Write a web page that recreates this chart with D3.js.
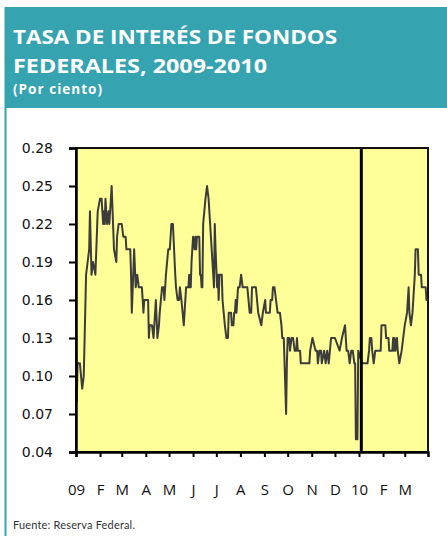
<!DOCTYPE html>
<html>
<head>
<meta charset="utf-8">
<script src="https://cdn.jsdelivr.net/npm/d3@7"></script>
<style>
  body { margin: 0; background: #fff; }
  svg { display: block; }
</style>
</head>
<body>
<script>
// fed funds effective rate
var dates = [
  "2009-01-01","2009-01-02","2009-01-03","2009-01-06","2009-01-09","2009-01-11","2009-01-14","2009-01-18","2009-01-19","2009-01-21",
  "2009-01-23","2009-01-26","2009-01-29","2009-02-01","2009-02-03","2009-02-04","2009-02-05","2009-02-06","2009-02-07","2009-02-08",
  "2009-02-10","2009-02-12","2009-02-13","2009-02-16","2009-02-19","2009-02-22","2009-02-23","2009-02-25","2009-03-01","2009-03-03",
  "2009-03-06","2009-03-07","2009-03-12","2009-03-13","2009-03-14","2009-03-17","2009-03-19","2009-03-21","2009-03-23","2009-03-27",
  "2009-03-28","2009-03-29","2009-03-30","2009-04-04","2009-04-05","2009-04-06","2009-04-09","2009-04-11","2009-04-14","2009-04-16",
  "2009-04-18","2009-04-19","2009-04-22","2009-04-24","2009-04-25","2009-04-26","2009-04-27","2009-04-30","2009-05-02","2009-05-04",
  "2009-05-06","2009-05-09","2009-05-10","2009-05-12","2009-05-14","2009-05-15","2009-05-17","2009-05-20","2009-05-23","2009-05-26",
  "2009-05-27","2009-05-28","2009-05-29","2009-05-30","2009-06-01","2009-06-03","2009-06-04","2009-06-05","2009-06-06","2009-06-09",
  "2009-06-10","2009-06-11","2009-06-12","2009-06-13","2009-06-14","2009-06-17","2009-06-19","2009-06-21","2009-06-24","2009-06-27",
  "2009-06-28","2009-06-29","2009-06-30","2009-07-02","2009-07-03","2009-07-04","2009-07-05","2009-07-08","2009-07-09","2009-07-12",
  "2009-07-14","2009-07-16","2009-07-17","2009-07-20","2009-07-21","2009-07-23","2009-07-24","2009-07-25","2009-07-26","2009-07-27",
  "2009-07-29","2009-07-31","2009-08-02","2009-08-04","2009-08-10","2009-08-13","2009-08-15","2009-08-16","2009-08-21","2009-08-24",
  "2009-08-28","2009-08-30","2009-09-02","2009-09-03","2009-09-08","2009-09-09","2009-09-11","2009-09-12","2009-09-14","2009-09-16",
  "2009-09-18","2009-09-21","2009-09-23","2009-09-24","2009-09-26","2009-09-27","2009-09-29","2009-09-30","2009-10-01","2009-10-03",
  "2009-10-04","2009-10-06","2009-10-08","2009-10-10","2009-10-12","2009-10-13","2009-10-14","2009-10-17","2009-10-18","2009-10-29",
  "2009-10-30","2009-11-02","2009-11-06","2009-11-08","2009-11-09","2009-11-11","2009-11-13","2009-11-14","2009-11-17","2009-11-19",
  "2009-11-21","2009-11-23","2009-11-26","2009-12-01","2009-12-07","2009-12-10","2009-12-14","2009-12-16","2009-12-18","2009-12-20",
  "2009-12-22","2009-12-24","2009-12-26","2009-12-27","2009-12-28","2009-12-30","2009-12-31","2010-01-05","2010-01-12","2010-01-14",
  "2010-01-15","2010-01-17","2010-01-18","2010-01-20","2010-01-22","2010-01-29","2010-01-30","2010-02-04","2010-02-05","2010-02-08",
  "2010-02-09","2010-02-13","2010-02-14","2010-02-15","2010-02-16","2010-02-17","2010-02-19","2010-02-20","2010-02-22","2010-02-25",
  "2010-03-01","2010-03-04","2010-03-06","2010-03-07","2010-03-09","2010-03-11","2010-03-14","2010-03-15","2010-03-18","2010-03-19",
  "2010-03-22","2010-03-23","2010-03-28","2010-03-29","2010-03-31"
];
var rates = [
  0.14,0.08,0.11,0.11,0.09,0.10,0.18,0.20,0.23,0.18,
  0.19,0.18,0.23,0.24,0.24,0.23,0.22,0.23,0.22,0.24,
  0.22,0.23,0.22,0.25,0.20,0.19,0.21,0.22,0.22,0.21,
  0.21,0.20,0.20,0.18,0.15,0.20,0.17,0.18,0.17,0.17,
  0.16,0.15,0.16,0.16,0.13,0.14,0.14,0.13,0.16,0.13,
  0.14,0.15,0.17,0.17,0.16,0.17,0.18,0.20,0.20,0.22,
  0.22,0.18,0.17,0.16,0.16,0.17,0.16,0.14,0.17,0.17,
  0.18,0.17,0.17,0.19,0.21,0.20,0.21,0.20,0.21,0.21,
  0.18,0.18,0.17,0.17,0.22,0.24,0.25,0.24,0.21,0.18,
  0.17,0.22,0.20,0.17,0.18,0.16,0.18,0.18,0.16,0.14,
  0.13,0.13,0.15,0.15,0.14,0.14,0.15,0.15,0.16,0.15,
  0.17,0.17,0.18,0.17,0.17,0.15,0.15,0.17,0.17,0.15,
  0.14,0.15,0.16,0.15,0.15,0.16,0.16,0.17,0.17,0.16,
  0.15,0.15,0.14,0.13,0.13,0.11,0.07,0.11,0.13,0.13,
  0.12,0.13,0.13,0.12,0.12,0.13,0.12,0.12,0.11,0.11,
  0.12,0.13,0.12,0.12,0.11,0.12,0.12,0.11,0.12,0.11,
  0.12,0.11,0.13,0.13,0.12,0.13,0.14,0.12,0.12,0.11,
  0.12,0.12,0.11,0.11,0.05,0.05,0.12,0.11,0.11,0.12,
  0.13,0.13,0.12,0.11,0.12,0.12,0.14,0.14,0.13,0.13,
  0.12,0.12,0.13,0.12,0.13,0.12,0.13,0.12,0.11,0.12,
  0.14,0.15,0.17,0.15,0.14,0.15,0.18,0.20,0.20,0.18,
  0.18,0.17,0.17,0.16,0.16
];
var yTicks = [0.04, 0.07, 0.10, 0.13, 0.16, 0.19, 0.22, 0.25, 0.28];
var monthLabels = ["09","F","M","A","M","J","J","A","S","O","N","D","10","F","M"];
var markerDate = "2010-01-04";

var parse = d3.timeParse("%Y-%m-%d");
var data = dates.map(function(d, i) { return { date: parse(d), value: rates[i] }; });

var W = 447, H = 536;
var teal = "#35a3b0";

var svg = d3.select("body").append("svg")
  .attr("width", W)
  .attr("height", H);

// header box
svg.append("rect")
  .attr("x", 5).attr("y", 7)
  .attr("width", W - 5).attr("height", 101)
  .attr("fill", teal);

svg.append("rect")
  .attr("x", 4.5).attr("y", 7)
  .attr("width", 2).attr("height", H - 7)
  .attr("fill", teal);

svg.append("text")
  .attr("x", 13).attr("y", 44)
  .attr("textLength", 324)
  .attr("lengthAdjust", "spacingAndGlyphs")
  .style("font-family", "'Open Sans', sans-serif")
  .style("font-weight", "bold")
  .style("font-size", "20px")
  .attr("fill", "#fff")
  .text("TASA DE INTERÉS DE FONDOS");

svg.append("text")
  .attr("x", 13).attr("y", 73)
  .attr("textLength", 254)
  .attr("lengthAdjust", "spacingAndGlyphs")
  .style("font-family", "'Open Sans', sans-serif")
  .style("font-weight", "bold")
  .style("font-size", "20px")
  .attr("fill", "#fff")
  .text("FEDERALES, 2009-2010");

svg.append("text")
  .attr("x", 13).attr("y", 94)
  .attr("textLength", 89)
  .attr("lengthAdjust", "spacing")
  .style("font-family", "'Open Sans', sans-serif")
  .style("font-weight", "bold")
  .style("font-size", "13.5px")
  .attr("fill", "#fff")
  .text("(Por ciento)");

// scales
var x = d3.scaleTime()
  .domain([new Date(2009, 0, 1), new Date(2010, 2, 31)])
  .range([76, 428]);

var y = d3.scaleLinear()
  .domain([0.04, 0.28])
  .range([452, 148]);

// plot background
svg.append("rect")
  .attr("x", x.range()[0]).attr("y", y.range()[1])
  .attr("width", x.range()[1] - x.range()[0])
  .attr("height", y.range()[0] - y.range()[1])
  .attr("fill", "#ffff99")
  .attr("stroke", "#111")
  .attr("stroke-width", 2);

var line = d3.line()
  .x(function(d) { return x(d.date); })
  .y(function(d) { return y(d.value); });

svg.append("path")
  .datum(data)
  .attr("d", line)
  .attr("fill", "none")
  .attr("stroke", "#3c3c3c")
  .attr("stroke-width", 2)
  .attr("stroke-linejoin", "round");

// vertical marker
var md = parse(markerDate);
svg.append("line")
  .attr("x1", x(md)).attr("x2", x(md))
  .attr("y1", y.range()[1] + 1).attr("y2", y.range()[0])
  .attr("stroke", "#000")
  .attr("stroke-width", 3);

// y axis
var yAxis = svg.append("g")
  .attr("transform", "translate(76,0)")
  .call(d3.axisLeft(y).tickValues(yTicks).tickFormat(d3.format(".2f")).tickSize(7).tickPadding(16));
yAxis.select(".domain").attr("stroke", "#000").attr("stroke-width", 2.5);
yAxis.selectAll(".tick line").attr("stroke", "#000").attr("stroke-width", 2);
yAxis.selectAll("text")
  .style("font-family", "'DejaVu Sans', sans-serif")
  .style("font-size", "14px")
  .attr("fill", "#111");

// x axis
var monthTicks = d3.timeMonth.range(new Date(2009, 0, 1), new Date(2010, 3, 1));
var xAxis = svg.append("g")
  .attr("transform", "translate(0,452)")
  .call(d3.axisBottom(x).tickValues(monthTicks)
    .tickFormat(function(d, i) { return monthLabels[i]; })
    .tickSize(5).tickPadding(27));
xAxis.select(".domain").attr("stroke", "#000").attr("stroke-width", 2.5);
xAxis.selectAll(".tick line").attr("stroke", "#000").attr("stroke-width", 2);
xAxis.selectAll("text")
  .style("font-family", "'Open Sans', sans-serif")
  .style("font-size", "15px")
  .attr("fill", "#111");

// source
svg.append("text")
  .attr("x", 13).attr("y", 529)
  .attr("textLength", 122)
  .attr("lengthAdjust", "spacing")
  .style("font-family", "Lato, sans-serif")
  .style("font-size", "11px")
  .attr("fill", "#333")
  .text("Fuente:  Reserva Federal.");
</script>
</body>
</html>
